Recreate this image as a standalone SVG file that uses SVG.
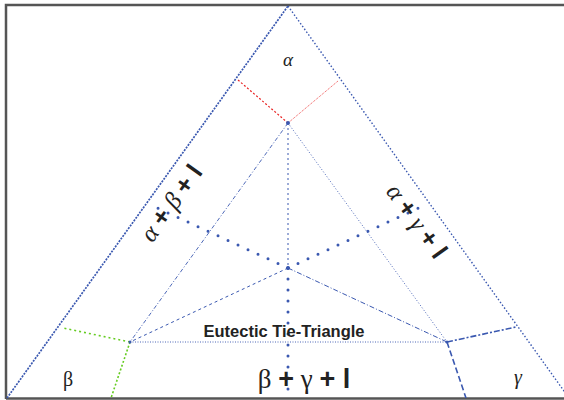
<svg xmlns="http://www.w3.org/2000/svg" width="564" height="400" viewBox="0 0 564 400">
<defs>
<style>
.frame{stroke:#555;stroke-width:2.5;fill:none}
.blue{stroke:#3a58b0;fill:none}
.bigdot{stroke:#3a58b0;stroke-width:3;stroke-linecap:round;stroke-dasharray:0 11;fill:none}
.serif{font-family:"Liberation Serif","DejaVu Serif",serif;fill:#222}
.sans{font-family:"Liberation Sans",Arial,sans-serif;font-weight:bold;fill:#222}
</style>
</defs>
<rect width="564" height="400" fill="#fff"/>
<g id="frame">
<path class="frame" d="M6,399 V5 H564"/>
<path class="frame" d="M6,398.5 H564"/>
</g>
<g id="connectors">
<line class="blue" x1="7" y1="398" x2="288" y2="6" stroke-width="1.7" stroke-dasharray="2 1.2"/>
<line class="blue" x1="288" y1="6" x2="569" y2="398" stroke-width="1.4" stroke-dasharray="1.5 2"/>
<line x1="238" y1="80" x2="288" y2="123" stroke="#e82020" stroke-width="1.2" stroke-dasharray="2 2"/>
<line x1="338" y1="81" x2="288" y2="123" stroke="#f05050" stroke-width="1" stroke-dasharray="1 1"/>
<line class="blue" x1="288" y1="123" x2="130" y2="342" stroke-width="0.9" stroke-dasharray="4 2 1 2"/>
<line class="blue" x1="288" y1="123" x2="447" y2="342" stroke-width="0.9" stroke-dasharray="1 2"/>
<line class="blue" x1="130" y1="342" x2="447" y2="342" stroke-width="0.9" stroke-dasharray="1 1.5"/>
<line class="blue" x1="288" y1="123" x2="288" y2="268" stroke-width="1" stroke-dasharray="2 3"/>
<line class="blue" x1="288" y1="268" x2="130" y2="342" stroke-width="1" stroke-dasharray="3 3"/>
<line class="blue" x1="288" y1="268" x2="447" y2="342" stroke-width="1" stroke-dasharray="5 2 1 2"/>
<line class="bigdot" x1="288" y1="268" x2="153" y2="206"/>
<line class="bigdot" x1="288" y1="268" x2="423" y2="206"/>
<line class="bigdot" x1="288" y1="268" x2="288" y2="398"/>
<line x1="130" y1="342" x2="63" y2="328" stroke="#6c2" stroke-width="1.6" stroke-dasharray="2 3"/>
<line x1="130" y1="342" x2="111" y2="398" stroke="#6c2" stroke-width="1.6" stroke-dasharray="2 2"/>
<line class="blue" x1="447" y1="342" x2="516" y2="327" stroke-width="1.6" stroke-dasharray="6 2 2 2"/>
<line class="blue" x1="447" y1="342" x2="466" y2="398" stroke-width="1.6" stroke-dasharray="6 3"/>
<circle cx="288" cy="123" r="2" fill="#3a58b0"/>
<circle cx="288" cy="268" r="2" fill="#3a58b0"/>
<circle cx="130" cy="342" r="1.5" fill="#3a58b0"/>
<circle cx="447" cy="342" r="1.5" fill="#3a58b0"/>
</g>
<g id="alpha"><text class="serif" x="288" y="66" font-size="19" font-style="italic" text-anchor="middle">α</text></g>
<g id="beta"><text class="serif" x="68" y="386" font-size="20" text-anchor="middle">β</text></g>
<g id="gamma"><text class="serif" x="518" y="384" font-size="20" font-style="italic" text-anchor="middle">γ</text></g>
<g id="tie-triangle"><text class="sans" x="284" y="337" font-size="16.5" text-anchor="middle">Eutectic Tie-Triangle</text></g>
<g id="bgl"><text x="304" y="388" font-size="27" text-anchor="middle"><tspan class="serif">β </tspan><tspan class="sans">+</tspan><tspan class="serif"> γ </tspan><tspan class="sans">+ l</tspan></text></g>
<g id="abl"><text transform="translate(178,208) rotate(-54.4)" font-size="25" text-anchor="middle"><tspan class="serif" font-style="italic">α </tspan><tspan class="sans">+</tspan><tspan class="serif" font-style="italic"> β </tspan><tspan class="sans">+ l</tspan></text></g>
<g id="agl"><text transform="translate(410,226) rotate(54.4)" font-size="25" text-anchor="middle"><tspan class="serif" font-style="italic">α </tspan><tspan class="sans">+</tspan><tspan class="serif" font-style="italic"> γ </tspan><tspan class="sans">+ l</tspan></text></g>
</svg>
